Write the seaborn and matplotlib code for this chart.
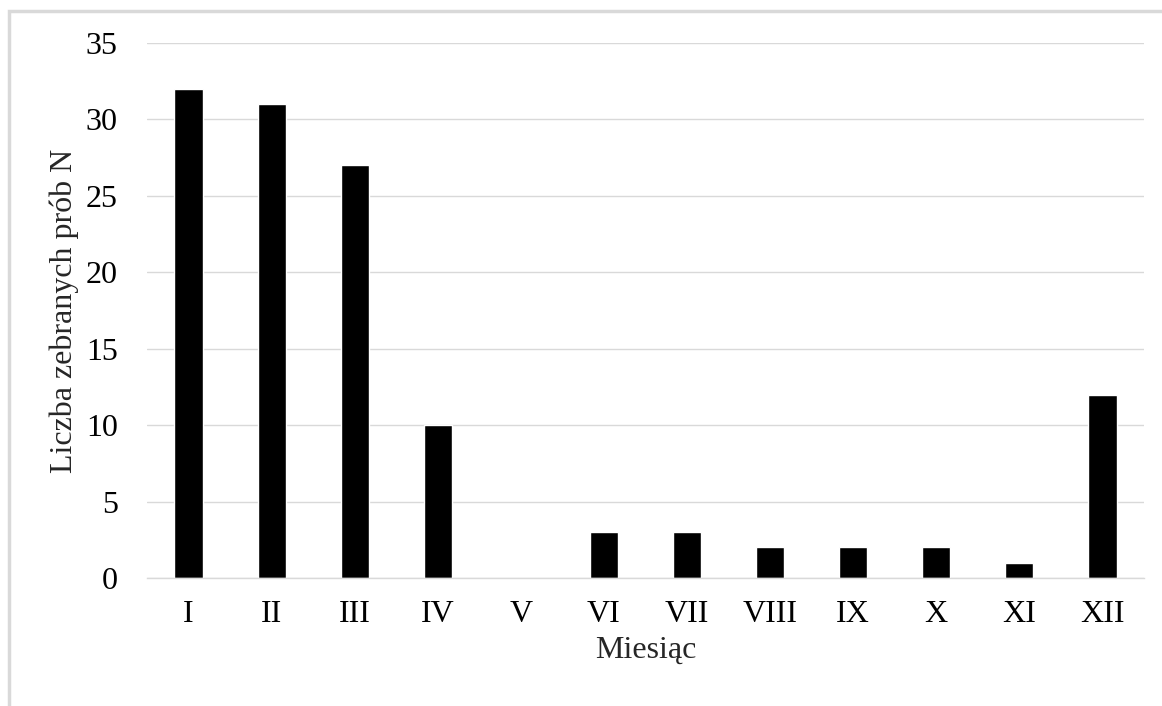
import pandas as pd
import matplotlib.pyplot as plt
import seaborn as sns
from matplotlib.patches import Rectangle

months = ['I', 'II', 'III', 'IV', 'V', 'VI', 'VII', 'VIII', 'IX', 'X', 'XI', 'XII']
counts = [32, 31, 27, 10, 0, 3, 3, 2, 2, 2, 1, 12]

df = pd.DataFrame({'Miesiąc': months, 'N': counts})

sns.set_theme(style='white')
plt.rcParams['font.family'] = ['Liberation Serif', 'DejaVu Serif']

fig = plt.figure(figsize=(11.62, 7.06), dpi=100)
ax = fig.add_axes([147 / 1162, 1 - 578 / 706, 997 / 1162, 535 / 706])

sns.barplot(data=df, x='Miesiąc', y='N', color='black', width=0.34,
            saturation=1, ax=ax)

ax.set_ylim(0, 35)
ax.set_yticks(range(0, 36, 5))
ax.set_xlim(-0.5, len(months) - 0.5)
ax.yaxis.grid(True, color='#d9d9d9', linewidth=1)
ax.set_axisbelow(True)
for s in ['top', 'right', 'left']:
    ax.spines[s].set_visible(False)
ax.spines['bottom'].set_color('#d9d9d9')
ax.spines['bottom'].set_linewidth(1)
ax.tick_params(axis='both', length=0, labelsize=23, colors='#000000')
ax.tick_params(axis='y', pad=21)
ax.tick_params(axis='x', pad=16)

ax.set_xlabel('Miesiąc', fontsize=23, labelpad=5)
ax.set_ylabel('Liczba zebranych prób N', fontsize=23, labelpad=5)

# outer chart frame
fig.patches.append(Rectangle((9 / 1162, -0.1), 1.2, 1 - 11 / 706 + 0.1,
                             transform=fig.transFigure, fill=False,
                             edgecolor='#d9d9d9', linewidth=2.5))

fig.savefig('out.png', dpi=100)
